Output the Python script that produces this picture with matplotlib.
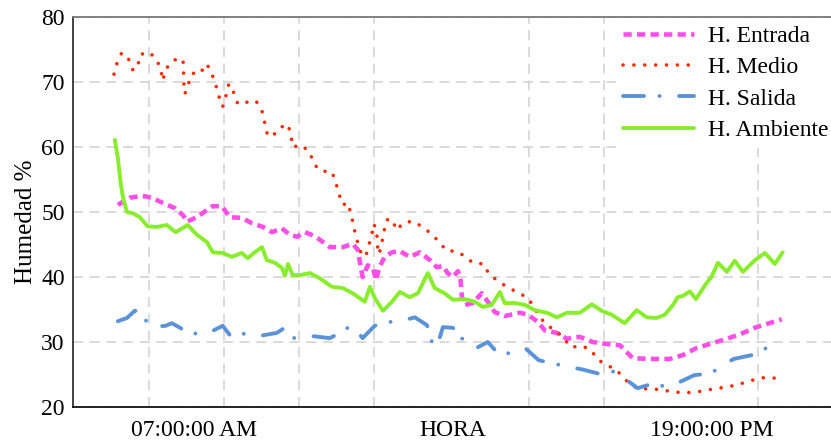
import matplotlib
matplotlib.use("Agg")
import matplotlib.pyplot as plt

plt.rcParams['font.family'] = ['Liberation Serif', 'DejaVu Serif']

# --- data (hora decimal, humedad %) ---
amb_h = [5.17, 5.24, 5.31, 5.36, 5.45, 5.59, 5.75, 5.93, 6.14, 6.37, 6.58, 6.86, 7.07, 7.30,
         7.44, 7.67, 7.88, 8.11, 8.25, 8.41, 8.58, 8.69, 8.88, 9.04, 9.11, 9.18, 9.29, 9.46,
         9.69, 9.92, 10.20, 10.45, 10.68, 10.96, 11.08, 11.19, 11.38, 11.59, 11.77, 12.00,
         12.19, 12.42, 12.58, 12.81, 13.00, 13.28, 13.51, 13.69, 13.90, 14.09, 14.20, 14.44,
         14.67, 14.90, 15.18, 15.41, 15.64, 15.94, 16.22, 16.45, 16.68, 16.98, 17.26, 17.49,
         17.72, 17.91, 18.10, 18.21, 18.33, 18.49, 18.63, 18.88, 18.99, 19.14, 19.35, 19.53,
         19.72, 20.00, 20.23, 20.46, 20.64]
amb_v = [61.1, 58.3, 54.2, 52.2, 50.0, 49.8, 49.2, 47.8, 47.7, 48.0, 46.9, 48.0, 46.5, 45.4,
         43.8, 43.7, 43.1, 43.7, 42.9, 43.8, 44.6, 42.6, 42.2, 41.4, 40.2, 42.0, 40.3, 40.3,
         40.6, 39.8, 38.5, 38.3, 37.5, 36.2, 38.5, 36.8, 34.8, 36.2, 37.7, 36.9,
         37.5, 40.6, 38.3, 37.5, 36.5, 36.6, 36.2, 35.4, 35.7, 37.7, 36.0, 36.0,
         35.7, 34.9, 34.5, 33.8, 34.5, 34.5, 35.8, 34.8, 34.2, 32.9, 34.9, 33.8,
         33.7, 34.2, 35.7, 36.9, 37.1, 37.8, 36.6, 39.1, 40.0, 42.2, 40.8, 42.5,
         40.8, 42.6, 43.7, 42.0, 43.8]

ent_h = [5.24, 5.52, 5.80, 6.03, 6.28, 6.56, 6.75, 6.84, 7.07, 7.30, 7.44, 7.65, 7.83, 8.11,
         8.34, 8.60, 8.81, 9.04, 9.22, 9.39, 9.57, 9.80, 10.03, 10.15, 10.45, 10.68, 10.80,
         10.85, 10.91, 11.03, 11.15, 11.22, 11.29, 11.42, 11.59, 11.77, 12.00, 12.24, 12.47,
         12.63, 12.77, 12.88, 13.00, 13.12, 13.18, 13.21, 13.28, 13.46, 13.67, 13.81, 13.97,
         14.20, 14.55, 14.74, 14.97, 15.13, 15.41, 15.64, 15.94, 16.24, 16.57, 16.87, 17.17,
         17.63, 18.03, 18.33, 18.65, 18.95, 19.35, 19.65, 20.04, 20.62]
ent_v = [51.1, 52.2, 52.5, 52.2, 51.4, 50.6, 49.5, 48.5, 49.2, 50.3, 50.9, 50.9, 49.2, 49.1,
         48.3, 47.7, 46.9, 47.5, 46.5, 46.2, 46.9, 46.3, 45.2, 44.6, 44.6, 45.1, 44.2,
         42.2, 40.0, 41.8, 41.4, 39.5, 41.4, 43.1, 43.8, 44.0, 43.1, 43.8, 42.6,
         41.5, 41.7, 40.6, 40.0, 40.9, 39.5, 36.9, 35.7, 36.0, 37.5, 36.2, 34.6,
         34.0, 34.5, 34.2, 33.1, 31.8, 31.4, 30.5, 30.8, 30.0, 29.7, 29.5, 27.5,
         27.4, 27.4, 28.0, 29.1, 29.7, 30.5, 31.2, 32.3, 33.5]

med_h = [5.15, 5.22, 5.33, 5.49, 5.59, 5.70, 5.75, 5.96, 6.14, 6.24, 6.28, 6.35, 6.54, 6.75,
         6.76, 6.77, 6.79, 6.86, 6.91, 7.05, 7.16, 7.30, 7.42, 7.51, 7.58, 7.67, 7.74, 7.81,
         7.93, 8.02, 8.23, 8.44, 8.58, 8.64, 8.69, 8.81, 8.97, 9.18, 9.25, 9.29, 9.50, 9.69,
         9.78, 9.94, 10.20, 10.29, 10.36, 10.45, 10.57, 10.66, 10.71, 10.78, 10.85, 10.98,
         11.05, 11.12, 11.17, 11.24, 11.25, 11.29, 11.35, 11.40, 11.47, 11.59, 11.70, 11.84,
         12.07, 12.30, 12.51, 12.68, 12.86, 13.07, 13.28, 13.46, 13.72, 13.83, 14.04, 14.25,
         14.48, 14.71, 14.88, 14.99, 15.18, 15.39, 15.57, 15.73, 15.99, 16.20, 16.34, 16.54,
         16.78, 16.94, 17.15, 17.38, 17.63, 17.86, 18.14, 18.40, 18.63, 18.88, 19.14, 19.37,
         19.62, 19.88, 20.13, 20.39, 20.62]
med_v = [71.2, 72.9, 74.5, 73.5, 71.8, 72.3, 74.2, 74.6, 73.5, 71.7, 70.2, 72.0, 73.4, 73.5,
         71.7, 69.8, 68.2, 69.1, 70.8, 71.7, 71.5, 72.8, 71.2, 69.5, 67.8, 66.2, 67.8, 69.7,
         68.3, 66.6, 66.9, 67.1, 65.5, 63.8, 62.2, 61.5, 62.9, 63.5, 61.8, 60.0, 60.3, 59.1,
         57.4, 56.3, 56.2, 54.5, 52.8, 51.1, 51.4, 49.2, 47.5, 45.7, 44.0, 43.1,
         44.8, 46.5, 48.2, 46.8, 44.9, 43.5, 45.1, 46.9, 48.8, 48.9, 47.2, 48.3,
         48.6, 47.7, 46.6, 45.4, 44.0, 44.0, 43.2, 42.2, 42.0, 40.5, 39.4, 38.5,
         37.7, 36.9, 35.5, 34.0, 32.6, 31.7, 30.6, 29.2, 29.4, 28.8, 27.4, 26.5,
         25.8, 24.6, 23.2, 22.8, 22.8, 22.6, 22.3, 22.2, 22.3, 22.6, 22.9, 23.1,
         23.5, 24.0, 24.5, 24.5, 24.3]

sal_h = [5.24, 5.45, 5.63, 5.73, 6.00, 6.35, 6.49, 6.68, 6.86, 7.28, 7.67, 7.83, 7.90, 8.04,
         8.48, 8.92, 9.06, 9.20, 9.34, 9.76, 10.15, 10.38, 10.66, 10.91, 11.19, 11.47, 11.73,
         12.12, 12.40, 12.47, 12.54, 12.63, 12.77, 12.98, 13.16, 13.23, 13.32, 13.58, 13.81,
         14.04, 14.25, 14.67, 14.99, 15.59, 15.99, 16.40, 16.75, 16.94, 17.28, 17.68, 17.91,
         18.21, 18.59, 18.99, 19.25, 19.51, 19.93, 20.30, 20.46, 20.64]
sal_v = [33.2, 33.7, 34.8, 34.8, 32.3, 32.5, 32.9, 32.2, 31.4, 31.2, 32.5, 31.1, 30.9, 31.4,
         30.9, 31.4, 32.0, 30.8, 30.6, 30.9, 30.6, 31.4, 32.6, 30.6, 32.5, 33.1, 33.1,
         33.8, 32.6, 31.1, 29.4, 29.2, 32.3, 32.2, 31.8, 30.2, 30.3, 29.2, 30.0,
         28.3, 28.2, 29.1, 27.2, 26.3, 25.8, 25.1, 25.5, 24.6, 22.9, 23.7, 23.1,
         23.7, 24.9, 25.2, 26.5, 27.4, 28.0, 29.2, 29.5, 29.5]

xtick_pos = [7, 13, 19]
xtick_lab = ['07:00:00 AM', 'HORA', '19:00:00 PM']
grid_x = [5.96, 7.69, 9.43, 11.17, 13.0, 14.76, 16.50, 20.06]

fig = plt.figure(figsize=(8.31, 4.41), dpi=100)
ax = fig.add_axes([0.0878, 0.077, 0.9122, 0.8845])

ax.plot(ent_h, ent_v, color='#ff4fe8', lw=3.3, dashes=(1.8, 1.15), solid_joinstyle='round',
        dash_joinstyle='round', label='H. Entrada', zorder=3)
ax.plot(med_h, med_v, color='#ff2a00', lw=2.6, dashes=(0.01, 3.0), dash_capstyle='round',
        label='H. Medio', zorder=3)
ax.plot(sal_h, sal_v, color='#5b93d8', lw=2.8, dashes=(5.4, 4.0, 0.01, 5.0),
        dash_capstyle='round', dash_joinstyle='round', label='H. Salida', zorder=3)
ax.plot(amb_h, amb_v, color='#88ee2c', lw=2.8, solid_joinstyle='round',
        solid_capstyle='round', label='H. Ambiente', zorder=3)

ax.set_xlim(4.20, 21.76)
ax.set_ylim(20, 80)
ax.set_yticks([20, 30, 40, 50, 60, 70, 80])
ax.set_xticks(xtick_pos)
ax.set_xticklabels(xtick_lab)
ax.set_xticks(grid_x, minor=True)
ax.tick_params(axis='both', which='both', length=0, labelsize=17)
ax.tick_params(axis='x', pad=9)
ax.tick_params(axis='y', pad=6)

ax.grid(axis='y', which='major', color='#d4d4d4', lw=1.2, dashes=(6, 4))
ax.grid(axis='x', which='minor', color='#d4d4d4', lw=1.2, dashes=(6, 4))
ax.set_axisbelow(True)

ax.set_ylabel('Humedad %', fontsize=18)
ax.yaxis.set_label_coords(-0.047, 0.474)

ax.spines['right'].set_visible(False)
ax.spines['top'].set_color('#777777')
ax.spines['left'].set_color('#333333')
ax.spines['bottom'].set_color('#111111')
for s in ['top', 'left', 'bottom']:
    ax.spines[s].set_linewidth(1.3)

leg = ax.legend(loc='upper right', bbox_to_anchor=(1.008, 1.0), fontsize=17, frameon=True,
                fancybox=False, framealpha=1, edgecolor='none', facecolor='white',
                handlelength=3.0, handletextpad=0.6, labelspacing=0.42,
                borderpad=0.3, borderaxespad=0.05)
leg.set_zorder(5)

fig.savefig('out.png', dpi=100)
